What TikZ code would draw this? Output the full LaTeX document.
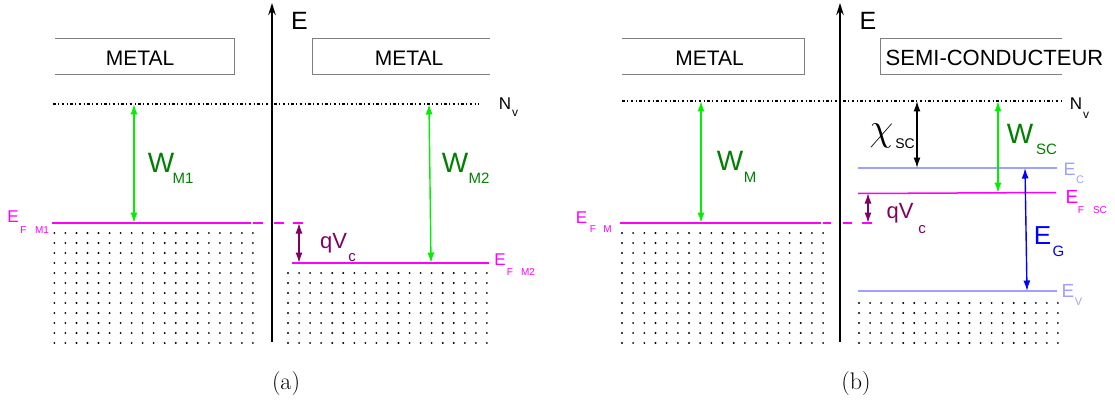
\documentclass[tikz,border=0pt]{standalone}
\usepackage{fontspec}
\setsansfont{Liberation Sans}
\usetikzlibrary{arrows.meta}
\definecolor{mag}{RGB}{255,0,255}
\definecolor{brgreen}{RGB}{0,240,0}
\definecolor{dkgreen}{RGB}{0,128,0}
\definecolor{purp}{RGB}{128,0,100}
\definecolor{lav}{RGB}{160,160,255}
\definecolor{boxgray}{RGB}{128,128,128}
\definecolor{pblue}{RGB}{0,0,255}
\newcommand\fsz[1]{\fontsize{#1}{#1}\selectfont}
\begin{document}
\begin{tikzpicture}[x=1pt,y=-1pt,
  lbl/.style={inner sep=0pt,outer sep=0pt,anchor=base,font=\sffamily},
  axisline/.style={line width=1.6pt,-{Stealth[length=12pt,width=7.5pt]}},
  dbl/.style={line width=1.4pt,{Latex[length=10.5pt,width=7pt]}-{Latex[length=10.5pt,width=7pt]}},
  boxline/.style={draw=boxgray,line width=0.9pt},
  vac/.style={line width=1.4pt,dash pattern=on 2.5pt off 2.5pt on 1pt off 2.5pt},
  fermi/.style={draw=mag,line width=1.5pt},
  band/.style={draw=lav,line width=1.5pt}
]
\useasboundingbox (0,0) rectangle (1115,401);

% ================= panel (a) =================
\coordinate (axAb) at (272,342);
\coordinate (axAt) at (272,3);
\draw[axisline] (axAb) -- (axAt);
\node[lbl] (EaxA) at (299.5,30) {\fsz{25}E};
\draw[boxline] (55,38) -- (234,38) -- (234,74) -- (55,74);
\node[lbl] (metA1) at (140,65.5) {\fsz{21}METAL};
\draw[boxline] (490,38) -- (312,38) -- (312,74) -- (490,74);
\node[lbl] (metA2) at (409,65.5) {\fsz{21}METAL};
\coordinate (nvA1) at (53,104);
\coordinate (nvA2) at (479,104);
\draw[vac] (nvA1) -- (nvA2);
\node[lbl] (NvA) at (505,110) {\fsz{17}N};
\node[lbl] (NvAs) at (515,117) {\fsz{12}v};
\coordinate (efA1) at (52,223);
\coordinate (efA1e) at (251,223);
\draw[fermi] (efA1) -- (efA1e);
\draw[fermi] (253,223) -- (263,223);
\draw[fermi] (274,223) -- (284,223);
\draw[fermi] (293,223) -- (303,223);
\coordinate (efA2) at (292,263);
\coordinate (efA2e) at (489,263);
\draw[fermi] (efA2) -- (efA2e);
\node[lbl,text=mag] (EFA1) at (13,222) {\fsz{17}E};
\node[lbl,text=mag] (EFA1f) at (23.5,233) {\fsz{10}F};
\node[lbl,text=mag] (EFA1m) at (42,233) {\fsz{10}M1};
\node[lbl,text=mag] (EFA2) at (500,265) {\fsz{17}E};
\node[lbl,text=mag] (EFA2f) at (510,275) {\fsz{10}F};
\node[lbl,text=mag] (EFA2m) at (528,275) {\fsz{10}M2};
\coordinate (wA1t) at (134,104);
\coordinate (wA1b) at (134,223);
\draw[dbl,brgreen] (wA1t) -- (wA1b);
\node[lbl,text=dkgreen] (WA1) at (161,172) {\fsz{28}W};
\node[lbl,text=dkgreen] (WA1s) at (183,183) {\fsz{15}M1};
\coordinate (wA2t) at (429,104);
\coordinate (wA2b) at (431,263);
\draw[dbl,brgreen] (wA2t) -- (wA2b);
\node[lbl,text=dkgreen] (WA2) at (455,172) {\fsz{28}W};
\node[lbl,text=dkgreen] (WA2s) at (479,183) {\fsz{15}M2};
\coordinate (qA1) at (299,223);
\coordinate (qA2) at (299,263);
\draw[dbl,purp] (qA1) -- (qA2);
\node[lbl,text=purp] (qVA) at (333.5,248) {\fsz{22}qV};
\node[lbl,text=purp] (qVAs) at (352,261) {\fsz{15}c};
\foreach \i in {0,...,18}{\foreach \j in {0,...,11}{\fill (54.4+\i*11.03,233+\j*10) circle (1.05pt);}}
\foreach \i in {0,...,18}{\foreach \j in {0,...,7}{\fill (288+\i*11.05,273+\j*10) circle (1.05pt);}}
\node[lbl,font=\rmfamily] (capA) at (286,389) {\fsz{24}(a)};

% ================= panel (b) =================
\coordinate (axBb) at (840,342);
\coordinate (axBt) at (840,3);
\draw[axisline] (axBb) -- (axBt);
\node[lbl] (EaxB) at (868,30) {\fsz{25}E};
\draw[boxline] (622,38) -- (804,38) -- (804,74) -- (622,74);
\node[lbl] (metB) at (709.5,65.5) {\fsz{21}METAL};
\draw[boxline] (1062,38) -- (880,38) -- (880,74) -- (1062,74);
\node[lbl] (scB) at (994.5,65.5) {\fsz{22}SEMI-CONDUCTEUR};
\coordinate (nvB1) at (622,101);
\coordinate (nvB2) at (1062,101);
\draw[vac] (nvB1) -- (nvB2);
\node[lbl] (NvB) at (1076,110) {\fsz{17}N};
\node[lbl] (NvBs) at (1086,118) {\fsz{12}v};
\coordinate (efB1) at (620,223);
\coordinate (efB1e) at (821,223);
\draw[fermi] (efB1) -- (efB1e);
\draw[fermi] (823,223) -- (831,223);
\draw[fermi] (843,223) -- (852,223);
\draw[fermi] (862,223) -- (872,223);
\node[lbl,text=mag] (EFB1) at (581.5,223) {\fsz{17}E};
\node[lbl,text=mag] (EFB1f) at (593,232) {\fsz{10}F};
\node[lbl,text=mag] (EFB1m) at (607.5,232) {\fsz{10}M};
\coordinate (ecB1) at (858,168);
\coordinate (ecB2) at (1057,168);
\draw[band] (ecB1) -- (ecB2);
\coordinate (efB2) at (858,193.5);
\coordinate (efB2e) at (1056,192.5);
\draw[fermi] (efB2) -- (efB2e);
\coordinate (evB1) at (858,291);
\coordinate (evB2) at (1057,291);
\draw[band] (evB1) -- (evB2);
\node[lbl,text=lav] (ECB) at (1069.5,175) {\fsz{18}E};
\node[lbl,text=lav] (ECBs) at (1080,183) {\fsz{11}C};
\node[lbl,text=mag] (EFB2) at (1072,203) {\fsz{19}E};
\node[lbl,text=mag] (EFB2f) at (1081,213) {\fsz{10}F};
\node[lbl,text=mag] (EFB2s) at (1100,213) {\fsz{10}SC};
\node[lbl,text=lav] (EVB) at (1068,297) {\fsz{19}E};
\node[lbl,text=lav] (EVBs) at (1078.5,305) {\fsz{11}V};
\coordinate (wBt) at (701,101);
\coordinate (wBb) at (701,223);
\draw[dbl,brgreen] (wBt) -- (wBb);
\node[lbl,text=dkgreen] (WB) at (730,170) {\fsz{28}W};
\node[lbl,text=dkgreen] (WBs) at (750,182) {\fsz{15}M};
\coordinate (chiT) at (917,101);
\coordinate (chiB) at (917,168);
\draw[dbl,black] (chiT) -- (chiB);
\node[inner sep=0pt,anchor=base,scale=1.55] (chiL) at (881.5,140) {\fsz{24}$\chi$};
\node[lbl] (chiS) at (905,148) {\fsz{14}SC};
\coordinate (wsT) at (998,101);
\coordinate (wsB) at (998,193);
\draw[dbl,brgreen] (wsT) -- (wsB);
\node[lbl,text=dkgreen] (WSC) at (1020,143) {\fsz{28}W};
\node[lbl,text=dkgreen] (WSCs) at (1046.5,154) {\fsz{15}SC};
\coordinate (egT) at (1025,168);
\coordinate (egB) at (1027,291);
\draw[dbl,pblue] (egT) -- (egB);
\node[lbl,text=pblue] (EG) at (1042.5,244) {\fsz{26}E};
\node[lbl,text=pblue] (EGs) at (1058.5,256) {\fsz{15}G};
\coordinate (qB1) at (868,193);
\coordinate (qB2) at (868,223);
\draw[dbl,purp] (qB1) -- (qB2);
\node[lbl,text=purp] (qVB) at (900,218) {\fsz{22}qV};
\node[lbl,text=purp] (qVBs) at (922,233) {\fsz{15}c};
\foreach \i in {0,...,18}{\foreach \j in {0,...,11}{\fill (622+\i*11.17,233+\j*10) circle (1.05pt);}}
\foreach \i in {0,...,18}{\foreach \j in {0,...,4}{\fill (859+\i*11.05,303+\j*10) circle (1.05pt);}}
\node[lbl,font=\rmfamily] (capB) at (856,389) {\fsz{24}(b)};
\end{tikzpicture}
\end{document}
